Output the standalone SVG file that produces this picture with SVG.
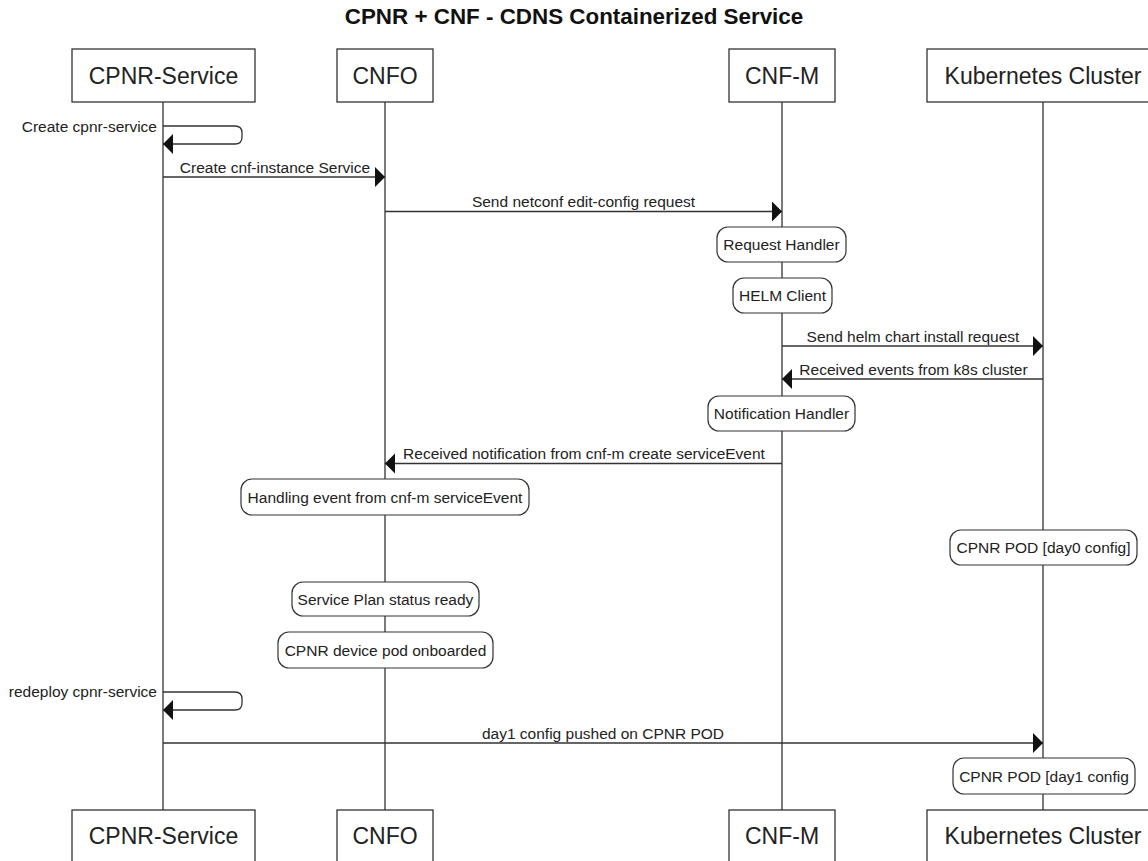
<svg xmlns="http://www.w3.org/2000/svg" width="1148" height="861" viewBox="0 0 1148 861">
<style>
  text { font-family: "Liberation Sans", Arial, sans-serif; fill: #222; }
  .title { font-size: 22.4px; font-weight: bold; fill: #111; text-anchor: middle; }
  .pbox { fill: #fff; stroke: #333; stroke-width: 1.3; }
  .ptext { font-size: 23px; text-anchor: middle; }
  .abox { fill: #fff; stroke: #333; stroke-width: 1.2; }
  .atext { font-size: 15.5px; text-anchor: middle; }
  .life { stroke: #333; stroke-width: 1.3; fill: none; }
  .msg { stroke: #333; stroke-width: 1.3; fill: none; marker-end: url(#arrow); }
  .mlabel { font-size: 15.5px; text-anchor: middle; }
  .slabel { font-size: 15.5px; text-anchor: end; }
</style>
<defs>
  <marker id="arrow" markerUnits="userSpaceOnUse" markerWidth="11" markerHeight="21" refX="10" refY="10" orient="auto" viewBox="0 0 11 21">
    <path d="M0,0 L10,10 L0,20 Z" fill="#111"/>
  </marker>
</defs>
<rect width="1148" height="861" fill="#fff"/>
<text class="title" x="574" y="24">CPNR + CNF - CDNS Containerized Service</text>

<g id="connectors">
  <line class="life" x1="163" y1="102" x2="163" y2="810"/>
  <line class="life" x1="385" y1="102" x2="385" y2="810"/>
  <line class="life" x1="782" y1="102" x2="782" y2="810"/>
  <line class="life" x1="1043" y1="102" x2="1043" y2="810"/>

  <path class="msg" d="M163,126 H235 Q242,126 242,133 V137 Q242,144 235,144 H163"/>
  <text class="slabel" x="157" y="132">Create cpnr-service</text>

  <line class="msg" x1="163" y1="177" x2="385" y2="177"/>
  <text class="mlabel" x="275" y="173">Create cnf-instance Service</text>

  <line class="msg" x1="385" y1="211.5" x2="782" y2="211.5"/>
  <text class="mlabel" x="583.5" y="206.5">Send netconf edit-config request</text>

  <line class="msg" x1="782" y1="346" x2="1043" y2="346"/>
  <text class="mlabel" x="913" y="342">Send helm chart install request</text>

  <line class="msg" x1="1043" y1="379" x2="782" y2="379"/>
  <text class="mlabel" x="913.5" y="375">Received events from k8s cluster</text>

  <line class="msg" x1="782" y1="463.5" x2="385" y2="463.5"/>
  <text class="mlabel" x="584" y="459">Received notification from cnf-m create serviceEvent</text>

  <path class="msg" d="M163,692 H235 Q242,692 242,699 V703 Q242,710 235,710 H163"/>
  <text class="slabel" x="157" y="697">redeploy cpnr-service</text>

  <line class="msg" x1="163" y1="743" x2="1043" y2="743"/>
  <text class="mlabel" x="603" y="739">day1 config pushed on CPNR POD</text>
</g>

<g id="p-cpnr-service-top"><rect class="pbox" x="72" y="49" width="183" height="53"/><text class="ptext" x="163.5" y="84">CPNR-Service</text></g>
<g id="p-cnfo-top"><rect class="pbox" x="337" y="49" width="96" height="53"/><text class="ptext" x="385" y="84">CNFO</text></g>
<g id="p-cnfm-top"><rect class="pbox" x="729" y="49" width="106" height="53"/><text class="ptext" x="782" y="84">CNF-M</text></g>
<g id="p-k8s-top"><rect class="pbox" x="927" y="49" width="232" height="53"/><text class="ptext" x="1043" y="84">Kubernetes Cluster</text></g>

<g id="n-request-handler"><rect class="abox" x="717" y="227" width="129" height="35" rx="11"/><text class="atext" x="781.5" y="250">Request Handler</text></g>
<g id="n-helm-client"><rect class="abox" x="733" y="278" width="99" height="35" rx="11"/><text class="atext" x="782.5" y="301">HELM Client</text></g>
<g id="n-notification-handler"><rect class="abox" x="708" y="396" width="147" height="35" rx="11"/><text class="atext" x="781.5" y="419">Notification Handler</text></g>
<g id="n-handling-event"><rect class="abox" x="241" y="479" width="288" height="36" rx="11"/><text class="atext" x="385" y="502.5">Handling event from cnf-m serviceEvent</text></g>
<g id="n-pod-day0"><rect class="abox" x="950" y="530" width="187" height="35" rx="11"/><text class="atext" x="1043.5" y="553">CPNR POD [day0 config]</text></g>
<g id="n-service-plan"><rect class="abox" x="292" y="582" width="187" height="34" rx="11"/><text class="atext" x="385.5" y="604.5">Service Plan status ready</text></g>
<g id="n-device-pod"><rect class="abox" x="278" y="632" width="215" height="36" rx="11"/><text class="atext" x="385.5" y="655.5">CPNR device pod onboarded</text></g>
<g id="n-pod-day1"><rect class="abox" x="953" y="758" width="182" height="36" rx="11"/><text class="atext" x="1044" y="781.5">CPNR POD [day1 config</text></g>

<g id="p-cpnr-service-bottom"><rect class="pbox" x="72" y="810" width="183" height="53"/><text class="ptext" x="163.5" y="844">CPNR-Service</text></g>
<g id="p-cnfo-bottom"><rect class="pbox" x="337" y="810" width="96" height="53"/><text class="ptext" x="385" y="844">CNFO</text></g>
<g id="p-cnfm-bottom"><rect class="pbox" x="729" y="810" width="106" height="53"/><text class="ptext" x="782" y="844">CNF-M</text></g>
<g id="p-k8s-bottom"><rect class="pbox" x="927" y="810" width="232" height="53"/><text class="ptext" x="1043" y="844">Kubernetes Cluster</text></g>
</svg>
